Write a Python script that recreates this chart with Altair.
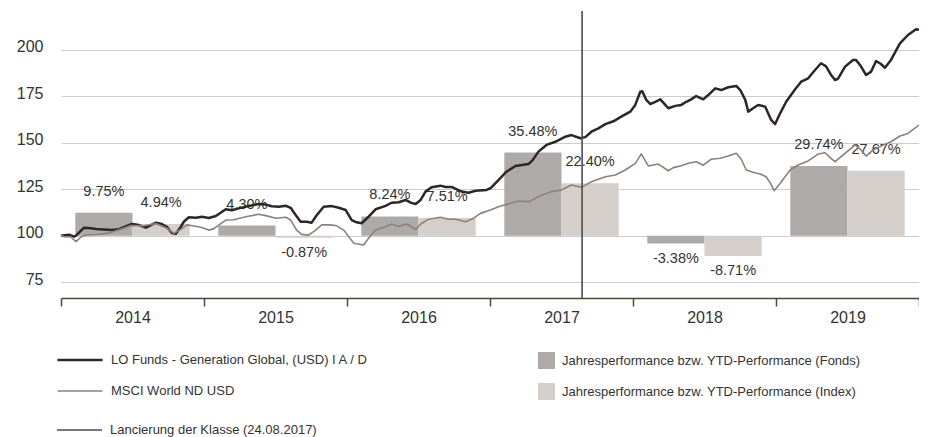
import altair as alt
import pandas as pd

# ---------------- data ----------------
years = [2014, 2015, 2016, 2017, 2018, 2019]
fund_perf = [9.75, 4.30, 8.24, 35.48, -3.38, 29.74]
index_perf = [4.94, -0.87, 7.51, 22.40, -8.71, 27.67]

fund_name = "LO Funds - Generation Global, (USD) I A / D"
index_name = "MSCI World ND USD"
bar_fund_name = "Jahresperformance bzw. YTD-Performance (Fonds)"
bar_index_name = "Jahresperformance bzw. YTD-Performance (Index)"
launch_name = "Lancierung der Klasse (24.08.2017)"
launch_t = [2017.644]

year_ticks = [2014, 2015, 2016, 2017, 2018, 2019, 2020]
y_ticks = [75, 100, 125, 150, 175, 200]

fund_t = [2014.000, 2014.056, 2014.091, 2014.105, 2014.161, 2014.210, 2014.265, 2014.356,
          2014.405, 2014.461, 2014.496, 2014.545, 2014.594, 2014.629, 2014.664, 2014.705,
          2014.740, 2014.775, 2014.803, 2014.838, 2014.859, 2014.894, 2014.943, 2014.985,
          2015.034, 2015.083, 2015.152, 2015.194, 2015.243, 2015.313, 2015.383, 2015.432,
          2015.474, 2015.523, 2015.572, 2015.606, 2015.641, 2015.676, 2015.718, 2015.753,
          2015.788, 2015.837, 2015.893, 2015.942, 2015.991, 2016.033, 2016.067, 2016.102,
          2016.151, 2016.200, 2016.270, 2016.312, 2016.361, 2016.410, 2016.445, 2016.480,
          2016.515, 2016.549, 2016.591, 2016.654, 2016.689, 2016.731, 2016.801, 2016.850,
          2016.899, 2016.976, 2017.003, 2017.059, 2017.115, 2017.178, 2017.269, 2017.297,
          2017.339, 2017.395, 2017.457, 2017.527, 2017.569, 2017.632, 2017.667, 2017.709,
          2017.758, 2017.807, 2017.863, 2017.918, 2017.981, 2018.016, 2018.051, 2018.065,
          2018.093, 2018.121, 2018.156, 2018.191, 2018.226, 2018.247, 2018.296, 2018.338,
          2018.373, 2018.407, 2018.442, 2018.491, 2018.526, 2018.575, 2018.617, 2018.666,
          2018.722, 2018.750, 2018.785, 2018.806, 2018.840, 2018.875, 2018.924, 2018.945,
          2018.966, 2018.994, 2019.029, 2019.071, 2019.134, 2019.176, 2019.225, 2019.273,
          2019.315, 2019.350, 2019.385, 2019.413, 2019.434, 2019.483, 2019.539, 2019.560,
          2019.595, 2019.630, 2019.665, 2019.700, 2019.734, 2019.762, 2019.804, 2019.867,
          2019.923, 2019.979, 2020.000]
fund_v = [100.0, 100.5, 99.5, 100.0, 104.3, 104.0, 103.4, 103.0,
          103.5, 105.2, 106.3, 105.7, 104.3, 105.7, 107.0, 106.3,
          104.8, 101.4, 101.0, 104.8, 107.5, 109.9, 109.7, 110.2,
          109.5, 110.6, 114.2, 113.7, 114.7, 116.0, 117.0, 116.7,
          115.8, 115.5, 116.1, 115.0, 111.1, 107.5, 107.5, 107.0,
          111.0, 115.6, 115.9, 115.0, 113.8, 108.4, 107.2, 106.7,
          110.2, 114.2, 116.0, 117.7, 118.0, 119.2, 117.8, 117.0,
          119.2, 123.7, 126.0, 126.9, 126.2, 126.2, 123.7, 123.1,
          124.2, 124.6, 125.5, 129.9, 134.4, 137.5, 138.5, 140.5,
          145.2, 148.8, 150.5, 153.2, 154.1, 152.4, 153.0, 155.9,
          157.7, 160.0, 161.5, 164.0, 166.7, 170.3, 177.4, 177.6,
          173.0, 170.8, 172.0, 173.3, 170.3, 168.5, 169.8, 170.3,
          172.0, 173.3, 175.1, 173.3, 175.6, 179.2, 178.3, 179.8,
          180.5, 178.3, 173.0, 166.7, 168.5, 170.3, 169.4, 165.8,
          162.2, 160.0, 165.8, 172.0, 178.7, 182.8, 184.6, 189.1,
          192.7, 191.0, 186.4, 183.7, 184.5, 190.9, 194.5, 194.5,
          190.9, 186.4, 188.2, 193.9, 192.3, 190.3, 194.5, 203.4,
          207.9, 211.0, 210.7]

index_t = [2014.000, 2014.021, 2014.070, 2014.105, 2014.140, 2014.175, 2014.265, 2014.335,
           2014.405, 2014.489, 2014.580, 2014.664, 2014.740, 2014.789, 2014.838, 2014.880,
           2014.929, 2014.978, 2015.034, 2015.069, 2015.152, 2015.208, 2015.292, 2015.383,
           2015.432, 2015.502, 2015.572, 2015.606, 2015.648, 2015.683, 2015.732, 2015.781,
           2015.823, 2015.886, 2015.928, 2015.977, 2016.012, 2016.047, 2016.116, 2016.151,
           2016.200, 2016.270, 2016.312, 2016.361, 2016.417, 2016.480, 2016.522, 2016.570,
           2016.654, 2016.710, 2016.759, 2016.829, 2016.871, 2016.934, 2017.003, 2017.059,
           2017.150, 2017.199, 2017.276, 2017.339, 2017.429, 2017.499, 2017.569, 2017.639,
           2017.709, 2017.807, 2017.877, 2017.946, 2018.016, 2018.058, 2018.107, 2018.177,
           2018.247, 2018.282, 2018.338, 2018.387, 2018.442, 2018.491, 2018.547, 2018.610,
           2018.666, 2018.722, 2018.757, 2018.792, 2018.840, 2018.889, 2018.931, 2018.959,
           2018.987, 2019.029, 2019.099, 2019.155, 2019.225, 2019.294, 2019.343, 2019.385,
           2019.413, 2019.483, 2019.553, 2019.595, 2019.630, 2019.679, 2019.727, 2019.804,
           2019.867, 2019.923, 2020.000]
index_v = [100.0, 99.5, 99.3, 96.8, 99.3, 100.4, 100.8, 101.4,
           103.2, 105.5, 105.3, 106.5, 104.0, 101.3, 103.4, 105.8,
           105.2, 104.5, 103.0, 103.8, 108.4, 108.6, 110.2, 111.5,
           110.8, 109.4, 109.9, 108.4, 103.0, 100.7, 100.3, 103.0,
           105.8, 105.8, 105.3, 103.0, 99.5, 95.9, 95.0, 98.6,
           103.0, 104.8, 106.3, 105.0, 106.3, 103.4, 106.7, 108.8,
           109.9, 108.8, 108.8, 107.5, 108.8, 112.0, 113.8, 115.6,
           117.6, 118.6, 118.3, 121.0, 123.7, 124.6, 127.3, 126.0,
           129.0, 131.7, 132.6, 135.3, 138.9, 144.0, 137.5, 138.5,
           134.9, 136.6, 137.6, 138.9, 139.8, 137.9, 141.1, 141.6,
           142.8, 144.3, 141.1, 135.3, 134.1, 133.2, 131.7, 128.5,
           124.2, 128.2, 135.3, 138.0, 140.2, 143.9, 144.6, 141.6,
           139.8, 144.3, 148.8, 146.1, 142.8, 146.1, 147.9, 150.5,
           153.6, 155.0, 159.5]

# ---------------- tables ----------------
bars = pd.DataFrame({
    "year": years * 2,
    "slot": [0] * len(years) + [1] * len(years),
    "series": [bar_fund_name] * len(years) + [bar_index_name] * len(years),
    "perf": fund_perf + index_perf,
})
lines = pd.concat([
    pd.DataFrame({"t": fund_t, "v": fund_v, "series": fund_name}),
    pd.DataFrame({"t": index_t, "v": index_v, "series": index_name}),
])
launch = pd.DataFrame({"t": launch_t, "label": [launch_name]})

# ---------------- style ----------------
W, H = 858, 287
FONT = "Liberation Sans"
TXT = "#333333"
LEG_FS = 13
x_dom = [2014, 2020]
y_dom = [66.5, 220.8]
bar_k = 1.26
bar_dom = [(y_dom[0] - 100) / bar_k, (y_dom[1] - 100) / bar_k]

xs = alt.Scale(domain=x_dom, nice=False, zero=False)
x_axis = alt.Axis(values=year_ticks, format="d",
                  labelExpr="datum.value == 2020 ? '' : datum.label",
                  labelOffset=W / 12, grid=False, ticks=True, tickSize=8,
                  tickColor="#4a4a3c", tickWidth=1.5, domainColor="#4a4a3c",
                  domainWidth=1.6, labelFont=FONT, labelFontSize=16,
                  labelColor=TXT, labelPadding=3, labelBaseline="top",
                  labelAngle=0, labelFlush=False, labelOverlap=False, title=None)
bar_y = alt.Scale(domain=bar_dom, nice=False, zero=False)

bar_base = alt.Chart(bars).transform_calculate(
    x0="datum.year + 0.1 + 0.4 * datum.slot",
    x1="datum.year + 0.5 + 0.4 * datum.slot",
    xc="datum.year + 0.3 + 0.4 * datum.slot",
    zero="0",
    label="(datum.perf < 0 ? '-' : '') + format(abs(datum.perf), '.2f') + '%'",
)

bar_layer = bar_base.mark_rect().encode(
    x=alt.X("x0:Q", scale=xs, axis=x_axis),
    x2="x1:Q",
    y=alt.Y("perf:Q", scale=bar_y, axis=None),
    y2="zero:Q",
    fill=alt.Fill("series:N",
                  scale=alt.Scale(domain=[bar_fund_name, bar_index_name],
                                  range=["#aeaaa9", "#d4cfcb"]),
                  legend=alt.Legend(title=None, orient="none", legendX=477, legendY=341,
                                    symbolType="square", symbolSize=289,
                                    symbolStrokeWidth=0, labelFont=FONT,
                                    labelFontSize=LEG_FS, labelColor=TXT, labelOffset=7,
                                    labelLimit=500, rowPadding=14, padding=0)),
)

txt_common = dict(font=FONT, fontSize=14.5, color=TXT, align="center")
pos_text = bar_base.transform_filter("datum.perf >= 0").mark_text(
    baseline="alphabetic", dy=-17, **txt_common
).encode(
    x=alt.X("xc:Q", scale=xs, axis=x_axis),
    y=alt.Y("perf:Q", scale=bar_y, axis=None),
    text="label:N",
)
neg_text = bar_base.transform_filter("datum.perf < 0").mark_text(
    baseline="top", dy=8, **txt_common
).encode(
    x=alt.X("xc:Q", scale=xs, axis=x_axis),
    y=alt.Y("perf:Q", scale=bar_y, axis=None),
    text="label:N",
)

line_legend = alt.Legend(title=None, orient="none", legendX=-5, legendY=341,
                         symbolType="stroke", symbolSize=2025, clipHeight=16,
                         labelFont=FONT, labelFontSize=LEG_FS, labelColor=TXT,
                         labelOffset=7, labelLimit=500, rowPadding=15, padding=0)

line_layer = alt.Chart(lines).mark_line(interpolate="linear", strokeJoin="round").encode(
    x=alt.X("t:Q", scale=xs, axis=x_axis),
    y=alt.Y("v:Q", scale=alt.Scale(domain=y_dom, nice=False, zero=False),
            axis=alt.Axis(values=y_ticks, grid=True, gridColor="#cccccc",
                          gridWidth=1, domain=False, ticks=False, tickSize=0,
                          labelPadding=18, labelFont=FONT, labelFontSize=16,
                          labelColor=TXT, labelOffset=-3, title=None)),
    stroke=alt.Stroke("series:N",
                      scale=alt.Scale(domain=[fund_name, index_name],
                                      range=["#2e2625", "#8c817b"]),
                      legend=line_legend),
    strokeWidth=alt.StrokeWidth("series:N",
                                scale=alt.Scale(domain=[fund_name, index_name],
                                                range=[2.5, 1.6]),
                                legend=line_legend),
    order="t:Q",
)

rule_layer = alt.Chart(launch).mark_rule(color="#4d4d4d", strokeWidth=1.6).encode(
    x=alt.X("t:Q", scale=xs, axis=x_axis),
    strokeDash=alt.StrokeDash("label:N", scale=alt.Scale(domain=[launch_name], range=[[10, 0]]),
                              legend=alt.Legend(title=None, orient="none", legendX=-5,
                                                legendY=411, symbolType="stroke",
                                                symbolSize=2025, clipHeight=16,
                                                symbolStrokeColor="#4d4d4d",
                                                symbolStrokeWidth=1.6, labelFont=FONT,
                                                labelFontSize=LEG_FS, labelColor=TXT,
                                                labelOffset=7, labelLimit=500, padding=0)),
)

chart = alt.layer(bar_layer, pos_text, neg_text, line_layer, rule_layer).resolve_scale(
    y="independent"
).properties(
    width=W, height=H,
    autosize=alt.AutoSizeParams(type="none"),
    padding={"left": 53, "top": 3, "right": 0, "bottom": 139},
    background="white",
).configure_view(stroke=None)

chart.save("out.html", embed_options={"renderer": "svg", "actions": False})
